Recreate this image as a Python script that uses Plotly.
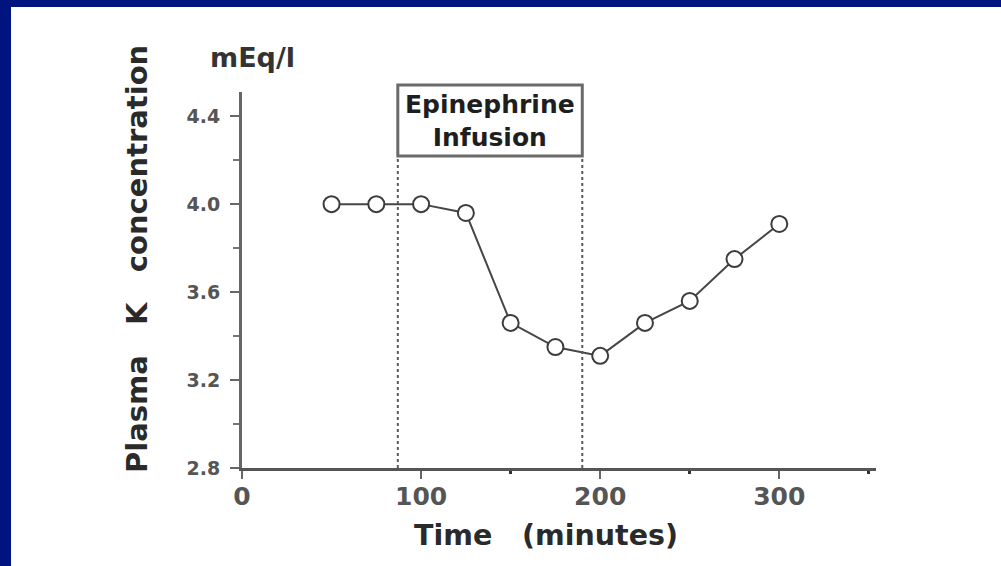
import plotly.graph_objects as go

# ---- data ----
time_min = [50, 75, 100, 125, 150, 175, 200, 225, 250, 275, 300]
plasma_k = [4.00, 4.00, 4.00, 3.96, 3.46, 3.35, 3.31, 3.46, 3.56, 3.75, 3.91]
infusion_start = 87
infusion_end = 190
x_tickvals = [0, 100, 200, 300]
x_ticktext = ["0", "100", "200", "300"]
y_tickvals = [2.8, 3.2, 3.6, 4.0, 4.4]
y_ticktext = ["2.8", "3.2", "3.6", "4.0", "4.4"]

W, H = 1001, 566
L, R, T, B = 242, 125, 92, 98
PW, PH = W - L - R, H - T - B


def px(xpix):
    return (xpix - L) / PW


def py(ypix):
    return (H - B - ypix) / PH


FONT = "DejaVu Sans"
NAVY = "#001480"

fig = go.Figure()
fig.add_trace(go.Scatter(
    x=time_min, y=plasma_k, mode="lines+markers",
    line=dict(color="#454545", width=2),
    marker=dict(symbol="circle", size=16, color="white",
                line=dict(color="#3c3c3c", width=2)),
    showlegend=False, cliponaxis=False,
))

shapes = []
# dashed infusion lines
for xv in (infusion_start, infusion_end):
    shapes.append(dict(type="line", xref="x", yref="paper", x0=xv, x1=xv,
                       y0=0, y1=py(156), line=dict(color="#5a5a5a", width=2, dash="3px,3px")))
# infusion box
shapes.append(dict(type="rect", xref="x", yref="paper", x0=infusion_start, x1=infusion_end,
                   y0=py(156), y1=py(85), line=dict(color="#6a6a6a", width=3),
                   fillcolor="rgba(0,0,0,0)"))
# navy frame (top and left)
shapes.append(dict(type="rect", xref="paper", yref="paper", x0=px(0), x1=px(W), y0=py(0), y1=py(7),
                   fillcolor=NAVY, line=dict(width=0), layer="above"))
shapes.append(dict(type="rect", xref="paper", yref="paper", x0=px(0), x1=px(11), y0=py(0), y1=py(H),
                   fillcolor=NAVY, line=dict(width=0), layer="above"))

annotations = [
    dict(text="Epinephrine<br>Infusion", xref="x", yref="paper",
         x=(infusion_start + infusion_end) / 2, y=py(121), xanchor="center", yanchor="middle",
         showarrow=False, font=dict(family=FONT, size=25, color="#1e1e1e", weight="bold")),
    dict(text="mEq/l", xref="paper", yref="paper", x=px(252), y=py(58),
         xanchor="center", yanchor="middle", showarrow=False,
         font=dict(family=FONT, size=27, color="#333333", weight="bold")),
    dict(text="Plasma\u00a0\u00a0\u00a0K\u00a0\u00a0\u00a0concentration", xref="paper", yref="paper",
         x=px(137), y=py(259), xanchor="center", yanchor="middle", textangle=-90,
         showarrow=False, font=dict(family=FONT, size=29, color="#2a2a2a", weight="bold")),
    dict(text="Time\u00a0\u00a0\u00a0(minutes)", xref="paper", yref="paper",
         x=px(546), y=py(535), xanchor="center", yanchor="middle",
         showarrow=False, font=dict(family=FONT, size=28.5, color="#2a2a2a", weight="bold")),
]

fig.update_layout(
    width=W, height=H,
    margin=dict(l=L, r=R, t=T, b=B, pad=0),
    paper_bgcolor="white", plot_bgcolor="white",
    shapes=shapes, annotations=annotations,
    xaxis=dict(range=[0, 354], showgrid=False, zeroline=False,
               showline=True, linecolor="#555555", linewidth=3,
               ticks="outside", ticklen=8, tickwidth=2, tickcolor="#666666",
               tickvals=x_tickvals, ticktext=x_ticktext, ticklabelstandoff=-4,
               tickfont=dict(family=FONT, size=25, color="#555555", weight="bold"),
               minor=dict(tickvals=[150, 250, 350], ticks="outside", ticklen=3,
                          tickwidth=3, tickcolor="#333333")),
    yaxis=dict(range=[2.8, 4.51], showgrid=False, zeroline=False,
               showline=True, linecolor="#666666", linewidth=3,
               ticks="outside", ticklen=9, tickwidth=2, tickcolor="#666666",
               tickvals=y_tickvals, ticktext=y_ticktext, ticklabelstandoff=6,
               tickfont=dict(family=FONT, size=19, color="#555555", weight="bold"),
               minor=dict(tickvals=[3.0, 3.4, 3.8, 4.2], ticks="outside", ticklen=6,
                          tickwidth=2, tickcolor="#777777")),
)

fig.write_html("out.html", config={"displayModeBar": False},
               post_script="document.body.style.margin='0';")
